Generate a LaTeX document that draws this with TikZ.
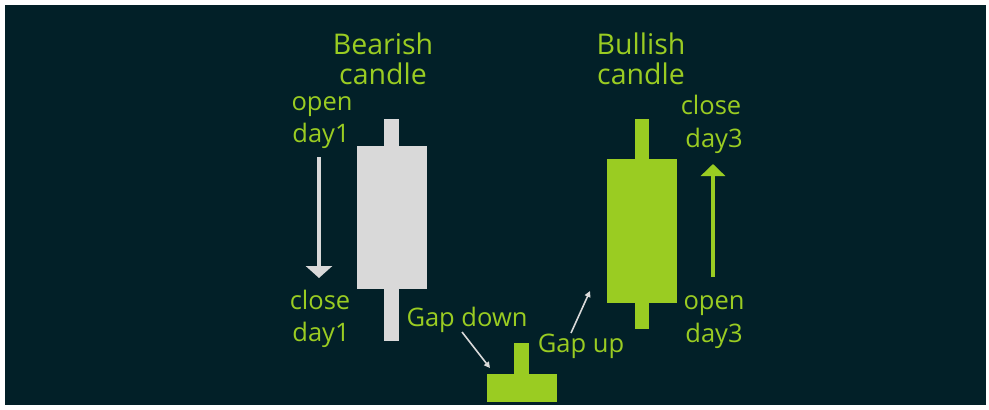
\documentclass[tikz,border=0pt]{standalone}
\usepackage{fontspec}
\setmainfont{Open Sans}
\usetikzlibrary{arrows.meta}
\definecolor{bg}{RGB}{2,32,40}
\definecolor{grn}{RGB}{154,204,34}
\definecolor{lgray}{RGB}{217,217,217}
\tikzset{
  title/.style={text=grn, font=\fontsize{28.5}{30}\selectfont, anchor=base, inner sep=0pt},
  lbl/.style={text=grn, font=\fontsize{25.5}{30}\selectfont, anchor=base, inner sep=0pt},
  bigarrow/.style={line width=4.6pt, -{Triangle[width=26pt,length=12pt]}},
  thinarrow/.style={lgray, line width=1.6pt, -{Triangle[width=6pt,length=6pt]}},
}
\begin{document}
\begin{tikzpicture}[x=1pt,y=-1pt]
\useasboundingbox (0,0) rectangle (989,410);
\fill[white] (0,0) rectangle (989,410);
\fill[bg] (5,5) rectangle (986,405);
% bearish candle
\fill[lgray] (384,119) rectangle (399,341);
\fill[lgray] (357,146) rectangle (427,289);
% bullish candle
\fill[grn] (635,119) rectangle (649,329);
\fill[grn] (607,159) rectangle (677,303);
% gap candle
\fill[grn] (514,343) rectangle (529,375);
\fill[grn] (487,374) rectangle (557,402);
% titles
\node[title] (bt1) at (383,54) {Bearish};
\node[title] (bt2) at (383,84) {candle};
\node[title] (ut1) at (641,54) {Bullish};
\node[title] (ut2) at (641,84) {candle};
% labels
\node[lbl] (o1a) at (322,110) {open};
\node[lbl] (o1b) at (321,142) {day1};
\node[lbl] (c1a) at (320,309) {close};
\node[lbl] (c1b) at (321,341) {day1};
\node[lbl] (c3a) at (711,114) {close};
\node[lbl] (c3b) at (714,147) {day3};
\node[lbl] (o3a) at (714,309) {open};
\node[lbl] (o3b) at (714,342) {day3};
\node[lbl] (gd) at (467,326) {Gap down};
\node[lbl] (gu) at (581,352) {Gap up};
% arrows
\coordinate (dA) at (319,157);
\coordinate (dB) at (319,278);
\coordinate (uA) at (713,277);
\coordinate (uB) at (713,164);
\coordinate (gdA) at (462,332);
\coordinate (gdB) at (490,368);
\coordinate (guA) at (571,333);
\coordinate (guB) at (590,291);
\draw[bigarrow, lgray] (dA) -- (dB);
\draw[bigarrow, grn, -{Triangle[width=24pt,length=12pt]}] (uA) -- (uB);
\draw[thinarrow] (gdA) -- (gdB);
\draw[thinarrow] (guA) -- (guB);
\end{tikzpicture}
\end{document}
